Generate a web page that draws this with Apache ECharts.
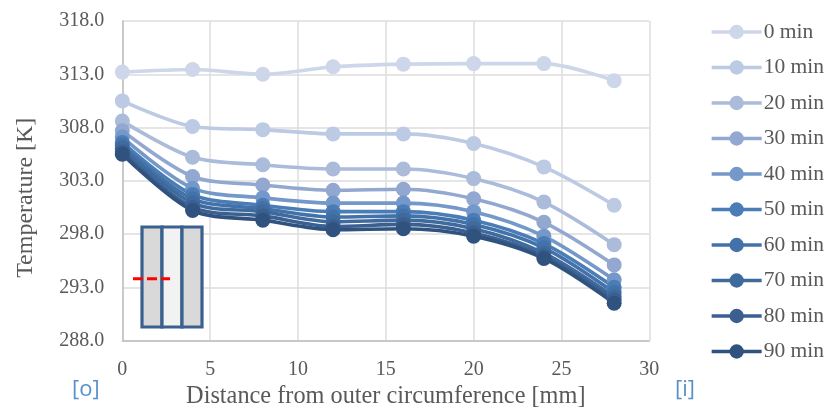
<!DOCTYPE html>
<html><head><meta charset="utf-8">
<style>html,body{margin:0;padding:0;background:#fff}#c{width:828px;height:408px}</style>
<script src="https://cdn.jsdelivr.net/npm/echarts@6/dist/echarts.min.js"></script>
</head><body><div id="c"></div>
<script>
const distances = [0,4,8,12,16,20,24,28];
const xTicks = [0,5,10,15,20,25,30];
const yTicks = [288,293,298,303,308,313,318];
const seriesNames = ['0 min','10 min','20 min','30 min','40 min','50 min','60 min','70 min','80 min','90 min'];
const t0  = [313.2,313.45,313.0,313.7,313.95,314.0,314.0,312.4];
const t10 = [310.5,308.1,307.8,307.4,307.4,306.5,304.3,300.7];
const t20 = [308.6,305.2,304.5,304.1,304.1,303.2,301.0,297.0];
const t30 = [307.7,303.4,302.6,302.1,302.2,301.3,299.1,295.1];
const t40 = [307.1,302.3,301.4,300.9,300.9,300.1,297.8,293.7];
const t50 = [306.6,301.7,300.7,300.1,300.1,299.3,297.1,293.0];
const t60 = [306.3,301.3,300.4,299.6,299.7,298.9,296.7,292.5];
const t70 = [306.05,300.9,300.1,299.15,299.3,298.5,296.2,292.1];
const t80 = [305.7,300.5,299.7,298.7,298.9,298.1,295.9,291.8];
const t90 = [305.5,300.2,299.3,298.4,298.5,297.8,295.7,291.5];
const temps = [t0,t10,t20,t30,t40,t50,t60,t70,t80,t90];
const colors = ['#CDD7E9','#BCCAE3','#ABBBDA','#92A8D1','#7498C9','#4A7DB6','#4372AA','#3F6A9D','#3A5F90','#30527F'];
const serif = '"Liberation Serif","Times New Roman",serif';
const chart = echarts.init(document.getElementById('c'), null, {renderer:'canvas'});
chart.setOption({
  animation:false,
  backgroundColor:'#fff',
  textStyle:{fontFamily:serif,color:'#595959'},
  grid:{left:122.3,right:178.7,top:21,bottom:67.5,containLabel:false,outerBoundsMode:'none'},
  xAxis:{type:'value',min:0,max:30,interval:5,
    name:'Distance from outer circumference [mm]',nameLocation:'middle',nameGap:43,
    nameTextStyle:{fontFamily:serif,fontSize:24.3,color:'#595959'},
    axisLine:{show:true,onZero:false,lineStyle:{color:'#BFBFBF',width:1.5}},
    axisTick:{show:false},
    axisLabel:{fontFamily:serif,fontSize:20,color:'#595959',margin:19,formatter:v=>String(v),customValues:xTicks},
    splitLine:{show:true,lineStyle:{color:'#DCDCDC',width:1.5}}},
  yAxis:{type:'value',min:288,max:318,
    name:'Temperature [K]',nameLocation:'middle',nameGap:85,
    nameTextStyle:{fontFamily:serif,fontSize:24,color:'#595959',padding:[0,34,0,0]},
    axisLine:{show:true,lineStyle:{color:'#BFBFBF',width:1.5}},
    axisTick:{show:false,customValues:yTicks},
    axisLabel:{fontFamily:serif,fontSize:20,color:'#595959',margin:18,formatter:v=>v.toFixed(1),customValues:yTicks,verticalAlignMinLabel:'middle',verticalAlignMaxLabel:'middle'},
    splitLine:{show:true,lineStyle:{color:'#DCDCDC',width:1.5}}},
  legend:{orient:'vertical',left:710,top:21,padding:0,itemWidth:50,itemHeight:18,itemGap:13.5,
    lineStyle:{width:3.3},
    textStyle:{fontFamily:serif,fontSize:21.5,color:'#595959',padding:[0,0,0,-3]},
    data:seriesNames},
  series:seriesNames.map((n,i)=>({
    name:n,type:'line',smooth:0.3,
    data:distances.map((d,j)=>[d,temps[i][j]]),
    symbol:'circle',symbolSize:15,
    lineStyle:{color:colors[i],width:3.6},
    itemStyle:{color:colors[i]},
    clip:false
  })),
  graphic:[
    {type:'rect',shape:{x:142,y:227,width:20,height:100},style:{fill:'#D9D9D9',stroke:'#3A6090',lineWidth:3.2},z:50},
    {type:'rect',shape:{x:162,y:227,width:20,height:100},style:{fill:'#F2F2F2',stroke:'#3A6090',lineWidth:3.2},z:50},
    {type:'rect',shape:{x:182,y:227,width:20,height:100},style:{fill:'#D9D9D9',stroke:'#3A6090',lineWidth:3.2},z:50},
    {type:'line',shape:{x1:133,y1:278.7,x2:170,y2:278.7},style:{stroke:'#FF0000',lineWidth:3,lineDash:[10,4]},z:51},
    {type:'text',left:72,top:379,style:{text:'[o]',fontFamily:'"Open Sans"',fontSize:22,fill:'#5B8FC9'},z:51},
    {type:'text',left:675,top:379,style:{text:'[i]',fontFamily:'"Open Sans"',fontSize:22,fill:'#5B8FC9'},z:51}
  ]
});
</script></body></html>
